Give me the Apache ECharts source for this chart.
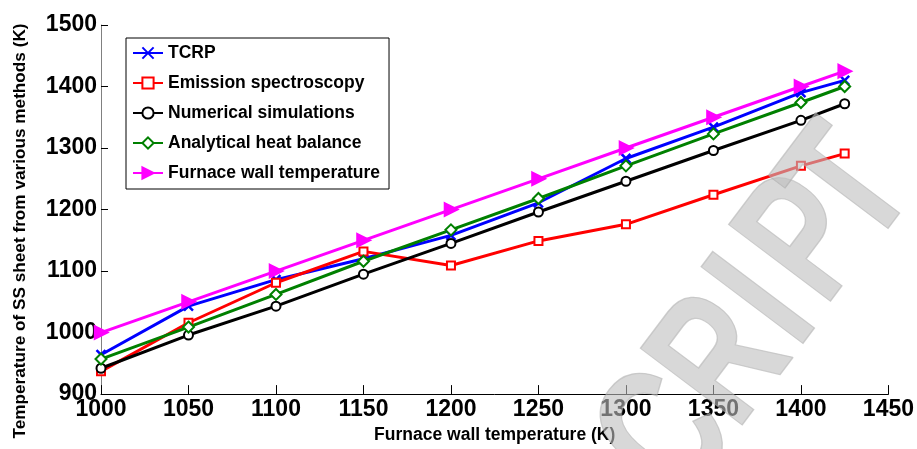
<!DOCTYPE html>
<html>
<head>
<meta charset="utf-8">
<script src="https://cdn.jsdelivr.net/npm/echarts@6/dist/echarts.min.js"></script>
<style>
html,body{margin:0;padding:0;background:#fff;}
#chart{width:917px;height:449px;}
</style>
</head>
<body>
<div id="chart"></div>
<script>
const furnaceTemps = [1000, 1050, 1100, 1150, 1200, 1250, 1300, 1350, 1400, 1425];
const tcrp        = [964, 1043, 1086, 1120, 1158, 1211, 1283, 1334, 1390, 1410];
const emission    = [937, 1016, 1081, 1132, 1109, 1149, 1176, 1224, 1271, 1291];
const numerical   = [942, 996, 1043, 1095, 1145, 1196, 1246, 1296, 1345, 1372];
const analytical  = [957, 1009, 1062, 1116, 1167, 1218, 1271, 1323, 1374, 1400];
const furnaceWall = [1000, 1050, 1100, 1150, 1200, 1250, 1300, 1350, 1400, 1425];
const seriesNames = ['TCRP', 'Emission spectroscopy', 'Numerical simulations', 'Analytical heat balance', 'Furnace wall temperature'];
const xTitle = 'Furnace wall temperature (K)';
const yTitle = 'Temperature of SS sheet from various methods (K)';
const watermarkLetters = ['C', 'R', 'I', 'P', 'T'];

const pair = arr => furnaceTemps.map((x, i) => [x, arr[i]]);
const FONT = '"Liberation Sans", Arial, sans-serif';

function mk(name, data, color, symbol, size, extra) {
  return Object.assign({
    name: name, type: 'line', data: pair(data),
    symbol: symbol, symbolSize: size,
    lineStyle: {color: color, width: 3},
    itemStyle: {color: color, borderColor: color, borderWidth: 2.5},
    emphasis: {disabled: true}, animation: false
  }, extra || {});
}

const chart = echarts.init(document.getElementById('chart'), null, {renderer: 'canvas'});
const wmPos = [[670, 439], [725, 363], [768, 305], [811, 242], [853, 190]];
const rot = 53 * Math.PI / 180;

chart.setOption({
  animation: false,
  backgroundColor: '#fff',
  grid: {left: 101, right: 26, top: 25, bottom: 52, containLabel: false},
  xAxis: {
    type: 'value', min: 1000, max: 1450, interval: 50,
    name: xTitle, nameLocation: 'middle', nameGap: 29,
    nameTextStyle: {fontFamily: FONT, fontWeight: 'bold', fontSize: 17.5, color: '#000'},
    axisLine: {lineStyle: {color: '#000', width: 1}},
    axisTick: {inside: true, length: 9, lineStyle: {color: '#000'}},
    axisLabel: {fontFamily: FONT, fontWeight: 'bold', fontSize: 23, color: '#000', margin: 4, formatter: v => String(v)},
    splitLine: {show: false}
  },
  yAxis: {
    type: 'value', min: 900, max: 1500, interval: 100,
    axisLine: {show: true, lineStyle: {color: '#808080', width: 1}},
    axisTick: {show: true, inside: true, length: 7, lineStyle: {color: '#000'}},
    axisLabel: {fontFamily: FONT, fontWeight: 'bold', fontSize: 23, color: '#000', margin: 4, formatter: v => String(v)},
    splitLine: {show: false}
  },
  legend: {
    orient: 'vertical', left: 126, top: 38,
    padding: [5, 9, 6, 6],
    backgroundColor: '#fff',
    borderColor: '#000', borderWidth: 1,
    itemWidth: 30, itemHeight: 14, itemGap: 10,
    textStyle: {fontFamily: FONT, fontWeight: 'bold', fontSize: 17.5, color: '#000', lineHeight: 20},
    data: seriesNames
  },
  graphic: [
    {type: 'text', x: 20, y: 231, rotation: Math.PI / 2, z: 10,
     style: {text: yTitle, fontFamily: FONT, fontWeight: 'bold', fontSize: 17.2, fill: '#000', align: 'center', verticalAlign: 'middle'}}
  ].concat(watermarkLetters.map((ch, i) => ({
    type: 'text', x: wmPos[i][0], y: wmPos[i][1], rotation: rot, scaleX: 0.72, z: 100, silent: true,
    style: {text: ch, fontFamily: FONT, fontWeight: 'bold', fontSize: 185, fill: 'rgba(190,190,190,0.6)',
            align: 'center', verticalAlign: 'middle',
            stroke: 'rgba(150,150,150,0.45)', lineWidth: 1.5}
  }))),
  series: [
    mk(seriesNames[0], tcrp, '#0000ff', 'path://M0,0L10,10M10,0L0,10', 9, {itemStyle: {color: 'none', borderColor: '#0000ff', borderWidth: 2.5}}),
    mk(seriesNames[1], emission, '#ff0000', 'emptyRect', 8),
    mk(seriesNames[2], numerical, '#000000', 'emptyCircle', 9),
    mk(seriesNames[3], analytical, '#008000', 'emptyDiamond', 11),
    mk(seriesNames[4], furnaceWall, '#ff00ff', 'path://M0,0L10,6L0,12Z', 12)
  ]
});
</script>
</body>
</html>
